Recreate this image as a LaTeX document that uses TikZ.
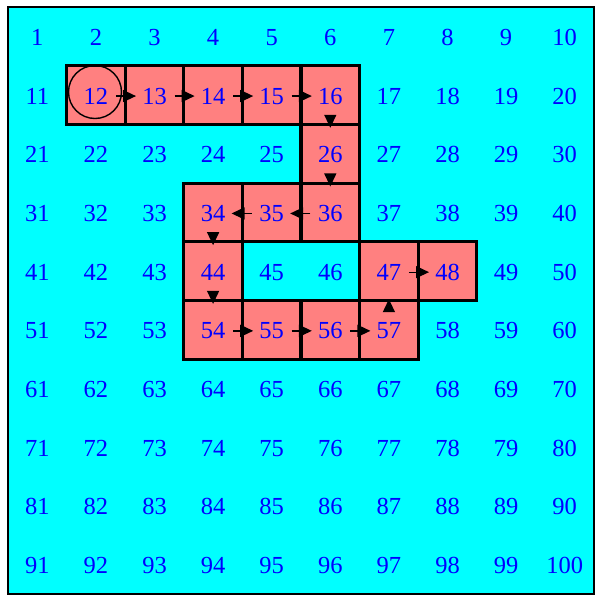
\documentclass[tikz,border=0pt]{standalone}
\usepackage{fontspec}
\setmainfont{Liberation Serif}
\usetikzlibrary{arrows.meta}
\definecolor{cyanbg}{RGB}{0,255,255}
\definecolor{salmonred}{RGB}{255,128,128}
\definecolor{numblue}{RGB}{0,0,255}
\begin{document}
\begin{tikzpicture}[x=1pt,y=-1pt,
  num/.style={text=numblue,font=\fontsize{24.5}{29}\selectfont,inner sep=0pt},
  redcell/.style={fill=salmonred,draw=black,line width=3.2pt},
  arr/.style={draw=black,line width=1.3pt,-{Triangle[length=13pt,width=12pt]}},
  hshort/.style={shorten <=20pt,shorten >=18.5pt},
  vshort/.style={shorten <=20pt,shorten >=27pt},
  ring/.style={circle,draw=black,line width=1.4pt,minimum size=53pt,inner sep=0pt}]
\useasboundingbox (0,0) rectangle (596,595);
\fill[cyanbg] (8,7) rectangle (594,594);
\foreach \n in {12,13,14,15,16,26,36,35,34,44,54,55,56,57,47,48} {
  \pgfmathtruncatemacro\r{(\n-1)/10}
  \pgfmathtruncatemacro\c{\n-1-10*\r}
  \draw[redcell] ({8+58.6*\c},{7+58.7*\r}) rectangle ++(58.6,58.7);
}
\draw[line width=2pt] (8,7) rectangle (594,594);
\foreach \n in {1,...,100} {
  \pgfmathtruncatemacro\r{(\n-1)/10}
  \pgfmathtruncatemacro\c{\n-1-10*\r}
  \node[num] (n\n) at ({8+58.6*(\c+0.5)},{8+58.7*(\r+0.5)}) {\n};
}
\foreach \a/\b in {12/13,13/14,14/15,15/16,36/35,35/34,54/55,55/56,56/57,47/48}
  \draw[arr,hshort] (n\a.center) -- (n\b.center);
\foreach \a/\b in {16/26,26/36,34/44,44/54,57/47}
  \draw[arr,vshort] (n\a.center) -- (n\b.center);
\node[ring] (start) at (95,92) {};
\end{tikzpicture}
\end{document}
